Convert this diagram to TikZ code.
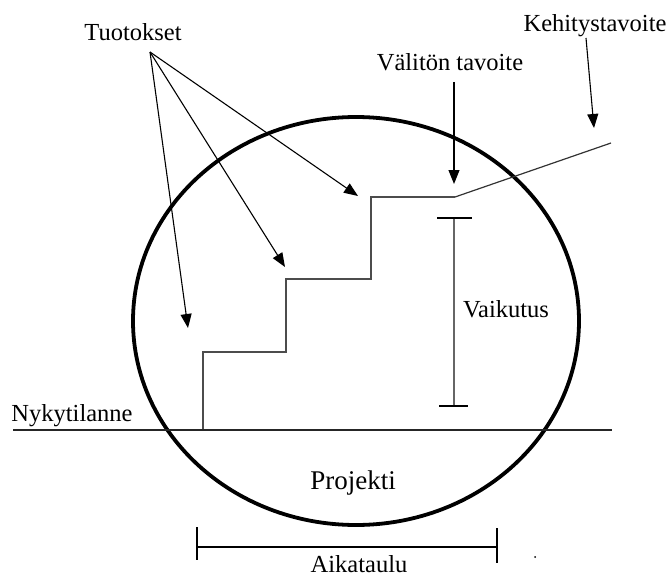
\documentclass[tikz,border=0pt]{standalone}
\usepackage{fontspec}
\setmainfont{Liberation Serif}
\usetikzlibrary{arrows.meta}

\tikzset{
  lbl/.style={inner sep=0pt, anchor=base, font=\fontsize{24.5}{28}\selectfont},
  pointer/.style={line width=1.1pt, -{Triangle[length=14pt,width=11pt]}},
  stair/.style={line width=1.6pt, draw=black!70},
  rule/.style={line width=1.3pt, draw=black!85},
  tick/.style={line width=1.3pt, draw=black},
  oval/.style={line width=3.8pt, draw=black}
}

\begin{document}
\begin{tikzpicture}[x=1pt,y=-1pt]
  \useasboundingbox (0,0) rectangle (670,578);

  % project ellipse
  \draw[oval] (356,321) ellipse [x radius=223, y radius=204];

  % labels
  \node[lbl] (tuo) at (133,41) {Tuotokset};
  \node[lbl] (val) at (450,71) {Välitön tavoite};
  \node[lbl] (keh) at (595,32) {Kehitystavoite};
  \node[lbl] (vai) at (506,317) {Vaikutus};
  \node[lbl] (nyk) at (72,421) {Nykytilanne};
  \node[lbl, font=\fontsize{27}{30}\selectfont] (pro) at (353,489) {Projekti};
  \node[lbl] (aik) at (359,572) {Aikataulu};

  % staircase corners
  \coordinate (s0) at (203,429);
  \coordinate (s1) at (203,352);
  \coordinate (s2) at (286,352);
  \coordinate (s3) at (286,279);
  \coordinate (s4) at (371,279);
  \coordinate (s5) at (371,197);
  \coordinate (s6) at (455,197);
  \coordinate (goal) at (611,143);

  % current state line
  \coordinate (baseL) at (13,430);
  \coordinate (baseR) at (612,430);
  \draw[rule] (baseL) -- (baseR);

  % staircase and development line
  \draw[stair, line join=miter] (s0) -- (s1) -- (s2) -- (s3) -- (s4) -- (s5) -- (s6);
  \draw[line width=1.2pt, draw=black!80] (s6) -- (goal);

  % output arrows
  \coordinate (tuoS) at (150,52);
  \coordinate (t1) at (358,196);
  \coordinate (t2) at (285,267);
  \coordinate (t3) at (188,328);
  \draw[pointer] (tuoS) -- (t1);
  \draw[pointer] (tuoS) -- (t2);
  \draw[pointer] (tuoS) -- (t3);

  % goal arrows
  \coordinate (valS) at (454,82);
  \coordinate (valE) at (454,184);
  \draw[pointer] (valS) -- (valE);
  \coordinate (kehS) at (586,38);
  \coordinate (kehE) at (594,128);
  \draw[pointer] (kehS) -- (kehE);

  % impact bar
  \coordinate (vT) at (454,218);
  \coordinate (vB) at (454,406);
  \draw[line width=1.4pt, draw=black!60] (vT) -- (vB);
  \draw[tick] (437,218) -- (472,218);
  \draw[tick] (439,406) -- (468,406);

  % schedule bar
  \coordinate (aL) at (197,547);
  \coordinate (aR) at (496,547);
  \draw[tick] (aL) -- (aR);
  \draw[tick] (197,527) -- (197,560);
  \draw[tick] (497,528) -- (497,563);

  % stray dot
  \fill (535,557) circle [radius=1pt];
\end{tikzpicture}
\end{document}
